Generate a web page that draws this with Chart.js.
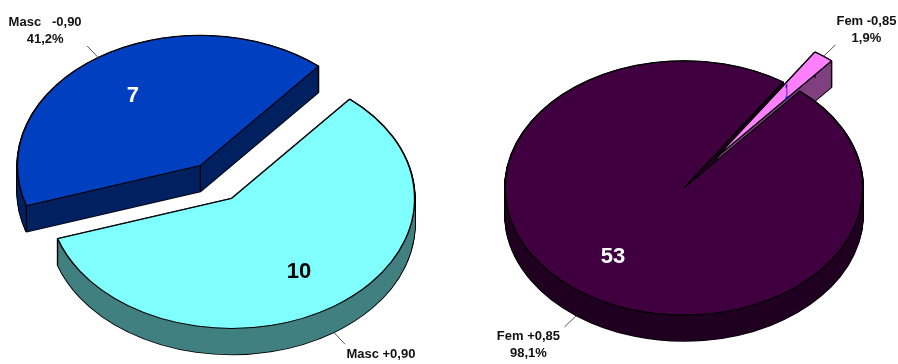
<!DOCTYPE html>
<html>
<head>
<meta charset="utf-8">
<style>
    html, body { margin: 0; padding: 0; background: #fff; overflow: hidden; }
    canvas { position: absolute; top: 0; }
    #pieMasc { left: 0; }
    #pieFem { left: 470px; }
</style>
<script src="https://cdn.jsdelivr.net/npm/chart.js@4/dist/chart.umd.min.js"></script>
</head>
<body>
<canvas id="pieMasc" width="432" height="364"></canvas>
<canvas id="pieFem" width="428" height="364"></canvas>
<script>
// los datos, en el orden en que se dibuja cada pastel
const mascLabels = ['Masc +0,90', 'Masc   -0,90'];
const mascValues = [10, 7];
const mascPercents = ['', '41,2%'];

const femLabels = ['Fem -0,85', 'Fem +0,85'];
const femValues = [1, 53];
const femPercents = ['1,9%', '98,1%'];

const SQUASH = 0.71;   // perspectiva: alto / ancho de la elipse
const DEPTH = 26;      // grosor del pastel en px de pantalla
const LEADER = 20;     // largo de la linea guia

function drawArcWith(arc, ctx, over) {
    const original = arc.options;
    arc.options = Object.assign({}, original, over);
    arc.draw(ctx);
    arc.options = original;
}

const pie3d = {
    id: 'pie3d',
    // el offset de Chart.js tambien agranda el radio, asi que separamos los cortes aqui
    afterDatasetsUpdate(chart, args, opts) {
        chart.getDatasetMeta(0).data.forEach((arc, i) => {
            const half = (arc.startAngle + arc.endAngle) / 2;
            arc.x += Math.cos(half) * opts.explode[i];
            arc.y += Math.sin(half) * opts.explode[i];
        });
    },
    beforeDatasetsDraw(chart, args, opts) {
        const ctx = chart.ctx;
        const area = chart.chartArea;
        const cx = (area.left + area.right) / 2;
        const cy = (area.top + area.bottom) / 2;
        ctx.save();
        ctx.translate(cx, cy);
        ctx.scale(1, SQUASH);
        ctx.translate(-cx, -cy);

        const arcs = chart.getDatasetMeta(0).data;
        const order = arcs.map((a, i) => i).sort((a, b) => arcs[b].circumference - arcs[a].circumference);
        const step = 1 / SQUASH;

        order.forEach(i => {
            const arc = arcs[i];
            const side = opts.sides[i];
            // primero el contorno negro, luego el relleno encima
            for (let d = 0; d <= DEPTH; d++) {
                ctx.save();
                ctx.translate(0, d * step);
                drawArcWith(arc, ctx, { backgroundColor: side, borderColor: '#000', borderWidth: 2 });
                ctx.restore();
            }
            for (let d = 0; d <= DEPTH; d++) {
                ctx.save();
                ctx.translate(0, d * step);
                drawArcWith(arc, ctx, { backgroundColor: side, borderWidth: 0 });
                ctx.restore();
            }
            // aristas verticales
            const r = arc.outerRadius;
            const corners = [
                { x: arc.x, y: arc.y },
                { x: arc.x + Math.cos(arc.startAngle) * r, y: arc.y + Math.sin(arc.startAngle) * r },
                { x: arc.x + Math.cos(arc.endAngle) * r, y: arc.y + Math.sin(arc.endAngle) * r }
            ];
            ctx.strokeStyle = '#000';
            ctx.lineWidth = 1.2;
            corners.forEach(p => {
                ctx.beginPath();
                ctx.moveTo(p.x, p.y);
                ctx.lineTo(p.x, p.y + DEPTH * step);
                ctx.stroke();
            });
        });
    },
    afterDatasetsDraw(chart, args, opts) {
        const ctx = chart.ctx;
        ctx.restore();

        const area = chart.chartArea;
        const cy = (area.top + area.bottom) / 2;
        const toScreenY = y => cy + (y - cy) * SQUASH;
        const labels = chart.data.labels;
        const values = chart.data.datasets[0].data;

        chart.getDatasetMeta(0).data.forEach((arc, i) => {
            const half = (arc.startAngle + arc.endAngle) / 2;
            const r = arc.outerRadius;
            const cos = Math.cos(half);
            const sin = Math.sin(half);

            // valor sobre la cara superior; en el corte angosto queda casi como una raya
            ctx.textAlign = 'center';
            ctx.textBaseline = 'middle';
            ctx.font = 'bold 22px "Liberation Sans", Arial, sans-serif';
            ctx.fillStyle = opts.valueColors[i];
            ctx.fillText(values[i], arc.x + cos * r * 0.66, toScreenY(arc.y + sin * r * 0.66) + 2, opts.valueWidth[i]);

            // linea guia y etiqueta
            const drop = sin > 0 ? DEPTH : 0;
            const x1 = arc.x + cos * r;
            const y1 = toScreenY(arc.y + sin * r) + drop;
            const x2 = arc.x + cos * (r + LEADER);
            const y2 = toScreenY(arc.y + sin * (r + LEADER)) + drop;
            ctx.strokeStyle = '#555';
            ctx.lineWidth = 1;
            ctx.beginPath();
            ctx.moveTo(x1, y1);
            ctx.lineTo(x2, y2);
            ctx.stroke();

            const shift = opts.labelShift[i];
            ctx.font = 'bold 13px "Liberation Sans", Arial, sans-serif';
            ctx.fillStyle = '#111';
            ctx.fillText(labels[i], x2 + shift[0], y2 + shift[1]);
            if (opts.percents[i]) {
                ctx.fillText(opts.percents[i], x2 + shift[0], y2 + shift[1] + 17);
            }
        });
    }
};

function makePie(id, labels, values, percents, cfg) {
    return new Chart(document.getElementById(id), {
        type: 'pie',
        data: {
            labels: labels,
            datasets: [{
                data: values,
                backgroundColor: cfg.tops,
                borderColor: '#000',
                borderWidth: 1.5,
                clip: false
            }]
        },
        options: {
            responsive: false,
            animation: false,
            events: [],
            rotation: cfg.rotation,
            radius: cfg.radius,
            layout: { padding: { top: cfg.paddingTop } },
            plugins: {
                legend: { display: false },
                tooltip: { enabled: false },
                pie3d: {
                    sides: cfg.sides,
                    explode: cfg.explode,
                    valueColors: cfg.valueColors,
                    valueWidth: cfg.valueWidth,
                    labelShift: cfg.labelShift,
                    percents: percents
                }
            }
        },
        plugins: [pie3d]
    });
}

makePie('pieMasc', mascLabels, mascValues, mascPercents, {
    tops: ['#80ffff', '#0040c0'],
    sides: ['#408080', '#002060'],
    valueColors: ['#000', '#fff'],
    valueWidth: [undefined, undefined],
    explode: [28, 28],
    rotation: 40.2,
    radius: 183,
    paddingTop: 0,
    labelShift: [[36, 10], [-42, -23]]
});

makePie('pieFem', femLabels, femValues, femPercents, {
    tops: ['#ff80ff', '#400040'],
    sides: ['#804080', '#200020'],
    valueColors: ['#0000c0', '#fff'],
    valueWidth: [3, undefined],
    explode: [53, 0],
    rotation: 33.6,
    radius: 179,
    paddingTop: 12,
    labelShift: [[31, -24], [-36, 9]]
});
</script>
</body>
</html>
